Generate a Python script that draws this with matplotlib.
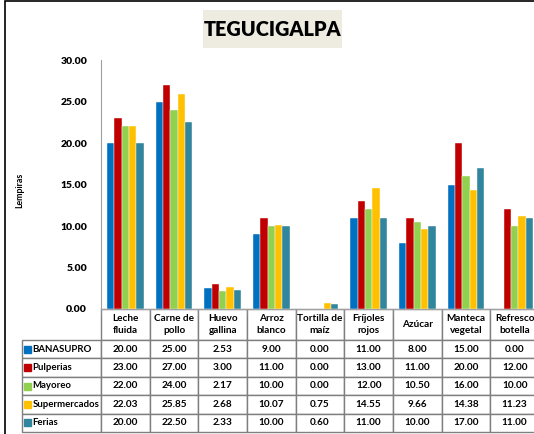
import numpy as np
import matplotlib
matplotlib.use("Agg")
import matplotlib.pyplot as plt
from matplotlib.table import Table
from matplotlib.patches import Rectangle

plt.rcParams['font.family'] = ['Lato', 'DejaVu Sans']
plt.rcParams['font.weight'] = 'bold'

categories = ['Leche\nfluida', 'Carne de\npollo', 'Huevo\ngallina', 'Arroz\nblanco',
              'Tortilla de\nmaíz', 'Fríjoles\nrojos', 'Azúcar', 'Manteca\nvegetal',
              'Refresco\nbotella']
series = ['BANASUPRO', 'Pulperias', 'Mayoreo', 'Supermercados', 'Ferias']
banasupro = [20.00, 25.00, 2.53, 9.00, 0.00, 11.00, 8.00, 15.00, 0.00]
pulperias = [23.00, 27.00, 3.00, 11.00, 0.00, 13.00, 11.00, 20.00, 12.00]
mayoreo = [22.00, 24.00, 2.17, 10.00, 0.00, 12.00, 10.50, 16.00, 10.00]
supermercados = [22.03, 25.85, 2.68, 10.07, 0.75, 14.55, 9.66, 14.38, 11.23]
ferias = [20.00, 22.50, 2.33, 10.00, 0.60, 11.00, 10.00, 17.00, 11.00]
colors = ['#0070C0', '#C00000', '#92D050', '#FFC000', '#31859C']
yticks = [0, 5, 10, 15, 20, 25, 30]

values = [banasupro, pulperias, mayoreo, supermercados, ferias]

W, H = 534, 434
fig = plt.figure(figsize=(W / 100, H / 100), dpi=100)

# axes in pixel terms: x 101..539, y 60..309
ax = fig.add_axes([101 / W, (H - 309) / H, 438 / W, 249 / H])

x = np.arange(len(categories))
bw = 0.152
for i, (name, vals) in enumerate(zip(series, values)):
    ax.bar(x + (i - 2) * bw, vals, bw, color=colors[i], edgecolor='white', linewidth=0.3)

ax.set_xlim(-0.5, len(categories) - 0.5)
ax.set_ylim(0, 30)
ax.set_yticks(yticks)
ax.set_yticklabels(['%.2f' % t for t in yticks], fontsize=7.5, fontweight='heavy')
ax.tick_params(axis='y', length=0, pad=10)
ax.set_xticks([])
ax.set_xticks(np.arange(len(categories) + 1) - 0.5, minor=True)
ax.tick_params(axis='x', which='minor', length=4, color='#8C8C8C', labelbottom=False)
for s in ['top', 'right']:
    ax.spines[s].set_visible(False)
for s in ['left', 'bottom']:
    ax.spines[s].set_color('#A0A0A0')

# data table under the chart
lab_w, col_w = 79, 438 / 9
head_h, row_h = 31, 18.4
tot_w = lab_w + col_w * 9
tot_h = head_h + row_h * 5
tb = Table(ax, bbox=[-lab_w / 438, -tot_h / 249, tot_w / 438, tot_h / 249])
edge = '#7F7F7F'
for j, c in enumerate(categories):
    cell = tb.add_cell(0, j + 1, width=col_w, height=head_h, text=c, loc='center',
                       edgecolor=edge, facecolor='white')
    cell.get_text().set_fontsize(7.2)
    cell.get_text().set_fontweight('bold')
    cell.get_text().set_linespacing(1.35)
for i, name in enumerate(series):
    cell = tb.add_cell(i + 1, 0, width=lab_w, height=row_h, text=name, loc='left',
                       edgecolor=edge, facecolor='white')
    cell.PAD = 0.13
    cell.get_text().set_fontsize(6.9)
    cell.get_text().set_fontweight('bold')
    for j, v in enumerate(values[i]):
        cell = tb.add_cell(i + 1, j + 1, width=col_w, height=row_h, text='%.2f' % v,
                           loc='center', edgecolor=edge, facecolor='white')
        cell.get_text().set_fontsize(7.2)
        cell.get_text().set_fontweight('bold')
tb.auto_set_font_size(False)
ax.add_table(tb)

# legend keys in the row labels
for i in range(len(series)):
    yc = -(head_h + row_h * (i + 0.5)) / 249
    ax.add_patch(Rectangle(((24 - 101) / 438, yc - 3.5 / 249), 7 / 438, 7 / 249,
                           transform=ax.transAxes, color=colors[i], clip_on=False))

# title with its shaded box
fig.add_artist(Rectangle((203 / W, 1 - 48 / H), 139 / W, 38 / H, transform=fig.transFigure,
                         facecolor='#EEECE1', edgecolor='none'))
fig.text(272.5 / W, 1 - 30 / H, 'TEGUCIGALPA', ha='center', va='center',
         fontsize=14.3, fontweight='heavy')
fig.text(20 / W, 1 - 190 / H, 'Lempiras', rotation=90, ha='center', va='center',
         fontsize=6.3, fontweight='bold')

# outer frame (only top and left are visible in the crop)
fig.add_artist(Rectangle((5 / W, -0.1), 1.2, 1.1 - 1 / H, transform=fig.transFigure,
                         fill=False, edgecolor='black', linewidth=1.2))

fig.savefig('out.png', dpi=100)
